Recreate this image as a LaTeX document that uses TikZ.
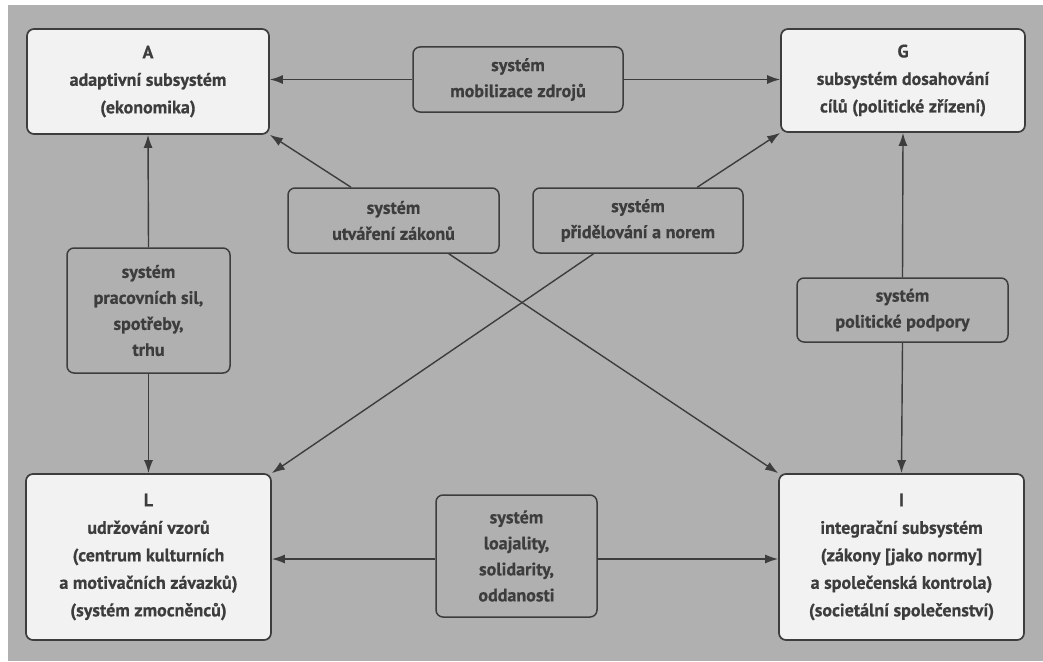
\documentclass[tikz,border=0pt]{standalone}
\usepackage{fontspec}
\setmainfont{PT Sans}[FakeBold=0.6]
\usetikzlibrary{arrows.meta,calc}
\definecolor{bg}{gray}{0.69}
\definecolor{boxfill}{gray}{0.95}
\definecolor{ink}{gray}{0.24}
\begin{document}
\begin{tikzpicture}[x=1pt,y=-1pt,
  main/.style={draw=ink, line width=1.7pt, rounded corners=7pt, fill=boxfill, text=ink,
    align=center, font=\fontsize{18}{27.5}\selectfont\bfseries, inner sep=0pt},
  sub/.style={draw=ink, line width=1.5pt, rounded corners=7pt, fill=bg, text=ink,
    align=center, font=\fontsize{18}{26}\selectfont\bfseries, inner sep=0pt},
  arr/.style={-{Latex[length=13pt,width=9pt]}, draw=ink, line width=1.4pt}]
\useasboundingbox (0,0) rectangle (1043,661);
\fill[white] (0,0) rectangle (1043,661);
\fill[bg] (8,5) rectangle (1043,661);
% main boxes
\node[main, minimum width=242pt, minimum height=105pt] (A) at (148,81.5)
  {A\\adaptivní subsystém\\(ekonomika)};
\node[main, minimum width=244pt, minimum height=103pt] (G) at (903,80.5)
  {G\\subsystém dosahování\\cílů (politické zřízení)};
\node[main, minimum width=245pt, minimum height=166pt] (L) at (148.5,557)
  {L\\udržování vzorů\\(centrum kulturních\\a motivačních závazků)\\(systém zmocněnců)};
\node[main, minimum width=245pt, minimum height=166pt] (I) at (901.5,557)
  {I\\integrační subsystém\\(zákony [jako normy]\\a společenská kontrola)\\(societální společenství)};
% sub boxes
\node[sub, minimum width=210pt, minimum height=65pt] (mob) at (518,79.5)
  {systém\\mobilizace zdrojů};
\node[sub, minimum width=211pt, minimum height=65pt] (utv) at (393.5,220.5)
  {systém\\utváření zákonů};
\node[sub, minimum width=210pt, minimum height=65pt] (prid) at (638,220.5)
  {systém\\přidělování a norem};
\node[sub, minimum width=163pt, minimum height=125pt] (prac) at (148.5,310.5)
  {systém\\pracovních sil,\\spotřeby,\\trhu};
\node[sub, minimum width=211pt, minimum height=64pt] (pol) at (902.5,310)
  {systém\\politické podpory};
\node[sub, minimum width=161pt, minimum height=122pt] (loaj) at (516.5,556)
  {systém\\loajality,\\solidarity,\\oddanosti};
% connectors
\draw[arr] (mob.west) -- (A.east |- mob.west);
\draw[arr] (mob.east) -- (G.west |- mob.east);
\draw[arr] (prac.north) -- (A.south);
\draw[arr] (prac.south) -- (L.north);
\draw[arr] (pol.north) -- (G.south);
\draw[arr] (pol.south) -- (I.north);
\draw[arr] (loaj.west |- 0,559) -- (L.east |- 0,559);
\draw[arr] (loaj.east |- 0,559) -- (I.west |- 0,559);
\draw[arr] ($(utv.north west)!0.3!(utv.north east)$) -- (A.south east);
\draw[arr] ($(utv.south west)!0.76!(utv.south east)$) -- (I.north west);
\draw[arr] ($(prid.north west)!0.78!(prid.north east)$) -- (G.south west);
\draw[arr] ($(prid.south west)!0.29!(prid.south east)$) -- (L.north east);
\end{tikzpicture}
\end{document}
